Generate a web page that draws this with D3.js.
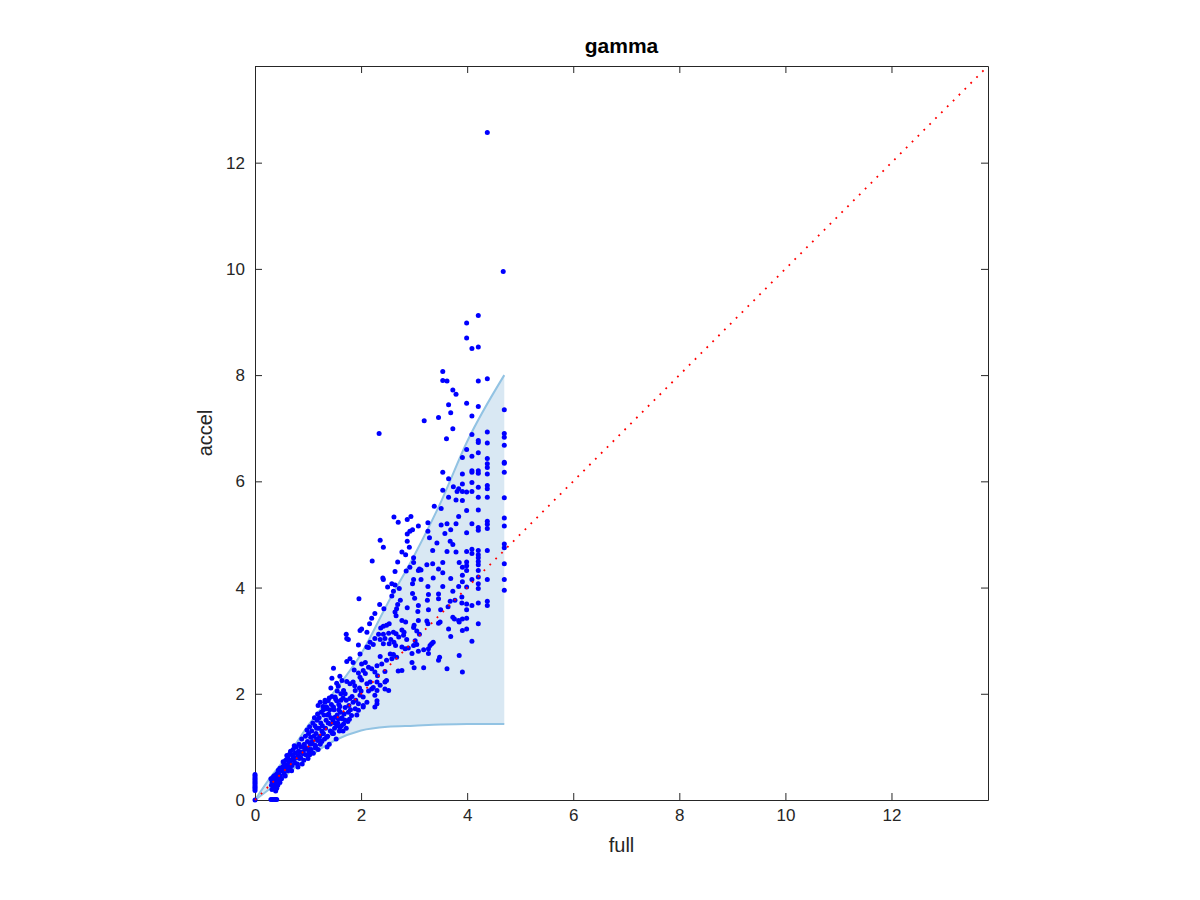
<!DOCTYPE html>
<html>
<head>
<meta charset="utf-8">
<script src="https://cdn.jsdelivr.net/npm/d3@7/dist/d3.min.js"></script>
<style>
body{margin:0;background:#fff;}
text{font-family:"Liberation Sans",Arial,Helvetica,sans-serif;}
</style>
</head>
<body>
<svg id="chart" width="1200" height="900"></svg>
<script>
// ---------------- data ----------------
const chartTitle = "gamma";
const xLabel = "full";
const yLabel = "accel";
const xTicks = [0, 2, 4, 6, 8, 10, 12];
const yTicks = [0, 2, 4, 6, 8, 10, 12];
const axisMax = 13.82;

// envelope (shaded band)
const envFull  = [0, 0.34, 0.5, 0.66, 1.0, 1.5, 2.0, 2.5, 3.0, 3.5, 4.0, 4.7];
const envUpper = [0, 0.49, 0.69, 0.90, 1.40, 2.05, 2.75, 3.70, 4.60, 5.60, 6.75, 8.00];
const envLower = [0, 0.26, 0.39, 0.53, 0.80, 1.12, 1.31, 1.38, 1.40, 1.42, 1.43, 1.43];

// scatter samples [full, accel]
const samples = [
[4.38,12.57],[4.68,9.95],[4.21,9.12],[3.99,8.98],[3.99,8.70],[4.09,8.50],[4.21,8.53],[3.54,8.07],[3.54,7.90],[3.62,7.89],[4.21,7.89],[4.38,7.93],[3.73,7.72],[3.79,7.64],[3.99,7.47],[4.21,7.41],[3.65,7.44],[3.69,7.29],[3.19,7.14],[3.46,7.20],[4.09,7.23],[3.73,6.99],[3.61,6.80],[4.09,6.88],[4.70,7.35],[4.38,6.93],[4.21,6.77],[4.21,6.73],[4.38,6.72],[4.70,6.90],[4.70,6.83],[4.70,6.68],[4.70,6.36],[4.70,6.34],[3.99,6.60],[3.91,6.45],[4.09,6.47],[4.21,6.54],[4.38,6.43],[4.38,6.33],[4.38,6.26],[4.09,6.20],[4.21,6.20],[2.34,6.90],
[3.54,6.17],[3.91,6.14],[4.09,6.17],[4.21,6.15],[4.38,6.14],[3.65,6.05],[3.91,5.95],[4.09,5.98],[4.38,5.92],[4.38,5.86],[4.70,6.17],[3.74,5.90],[3.84,5.86],[3.54,5.83],[3.91,5.81],[3.99,5.80],[4.09,5.81],[3.65,5.70],[3.79,5.65],[3.91,5.64],[4.21,5.70],[4.38,5.70],[4.70,5.69],[3.38,5.53],[3.51,5.49],[3.84,5.34],[3.99,5.45],[4.21,5.46],[2.94,5.34],[2.87,5.28],[3.26,5.22],[3.51,5.18],[3.62,5.20],[3.79,5.20],[4.09,5.20],[4.38,5.25],[4.38,5.19],[4.70,5.31],[4.70,5.16],[3.08,5.16],[2.97,5.09],[2.92,5.06],[2.87,5.01],[3.26,5.06],[3.58,5.02],[3.69,5.09],[3.99,5.03],[4.21,5.13],[4.21,5.08],[4.38,5.11],[3.29,4.94],[2.87,4.87],[3.43,4.84],[3.68,4.87],[3.73,4.81],[2.91,4.76],[2.77,4.67],[2.84,4.62],[3.35,4.70],[3.62,4.68],[3.79,4.67],[3.99,4.68],[4.09,4.72],[4.21,4.70],[4.38,4.70],[4.70,4.82],[4.70,4.75],[4.09,4.64],[2.99,4.56],[4.21,4.62],[4.21,4.56],[4.21,4.49],[4.21,4.43],[2.99,4.47],[3.24,4.43],[3.35,4.45],[3.54,4.47],[3.85,4.47],[3.99,4.48],[3.99,4.41],[3.91,4.38],[4.70,4.45],[3.10,4.35],[3.08,4.32],[3.13,4.33],[2.85,4.31],[2.92,4.38],[3.46,4.35],[3.99,4.32],[4.21,4.32],[2.99,4.15],[3.13,4.15],[3.36,4.18],[3.54,4.28],[3.69,4.17],[3.91,4.23],[3.91,4.11],[4.09,4.15],[4.21,4.20],[4.21,4.07],[4.38,4.15],[4.70,4.15],[3.26,4.02],[3.54,4.02],[3.84,4.02],[3.99,4.01],[4.21,3.98],[4.70,3.95],[2.97,3.89],[3.27,3.87],[3.46,3.88],[3.73,3.93],[3.90,3.82],[3.01,3.80],[3.46,3.79],[3.68,3.74],[3.77,3.76],[3.90,3.71],[3.99,3.69],[4.09,3.66],[4.21,3.71],[4.38,3.74],[4.38,3.66],[2.87,3.62],[3.08,3.66],[3.27,3.58],[3.50,3.58],[3.64,3.64],[3.73,3.44],[3.76,3.41],[3.85,3.35],[3.99,3.58],[3.99,3.42],[3.91,3.41],[2.77,3.38],[2.84,3.35],[3.08,3.38],[3.00,3.29],[2.99,3.25],[3.24,3.37],[3.26,3.32],[3.46,3.33],[3.49,3.35],[3.84,3.38],[3.65,3.22],[3.91,3.19],[3.99,3.22],[4.21,3.32],[2.77,3.20],[2.81,3.16],[2.80,3.10],[3.05,3.18],[3.69,3.08],[2.86,3.02],[3.02,3.00],[3.36,2.97],[4.09,2.99],[3.33,2.94],[3.30,2.91],[2.99,2.91],[3.05,2.93],[2.77,2.88],[2.83,2.85],[2.89,2.86],[3.18,2.83],[3.27,2.85],[2.96,2.76],[3.08,2.80],[3.27,2.76],[3.48,2.69],[3.85,2.72],[3.46,2.63],[2.96,2.59],[2.77,2.44],[3.00,2.49],[3.18,2.49],[3.62,2.47],[3.91,2.41],
[3.81,5.81],[4.21,5.89],[2.62,5.33],[2.70,5.23],[2.36,4.89],[2.42,4.76],[2.21,4.50],[2.69,4.48],[2.64,4.30],[2.41,4.18],[2.42,4.15],[2.97,4.07],[2.58,4.07],[2.64,4.05],[2.50,4.01],[2.61,3.93],[2.72,3.98],[1.96,3.79],[2.58,3.84],[2.74,3.76],[3.25,3.76],[2.35,3.68],[2.43,3.60],[2.67,3.60],[2.64,3.54],[3.07,3.55],[2.26,3.51],[2.20,3.42],[2.69,3.68],[2.53,3.32],[2.48,3.29],[2.42,3.27],[2.37,3.24],[2.16,3.32],[2.01,3.22],[1.98,3.19],[2.11,3.16],[1.72,3.12],[1.73,3.04],[1.76,3.02],[2.33,3.12],[2.42,3.12],[2.52,3.14],[2.61,3.16],[2.66,3.13],[2.71,3.07],[2.26,3.04],[2.36,3.02],[2.45,3.04],[2.56,3.02],[2.62,2.97],[2.65,2.91],[2.17,2.97],[2.23,2.93],[2.42,2.94],[2.53,2.94],[2.11,2.88],[1.95,2.92],[3.10,3.12],[2.66,3.47],
[2.14,2.87],[1.48,2.48],[1.98,2.75],[1.85,2.59],[1.73,2.61],[1.79,2.66],[1.87,2.45],[2.01,2.56],[2.08,2.59],[2.14,2.50],[2.20,2.47],[2.30,2.53],[2.39,2.56],[2.48,2.63],[2.58,2.66],[2.67,2.69],[2.36,2.70],[2.55,2.75],[2.61,2.74],[2.45,2.42],[2.26,2.41],[2.31,2.34],[2.04,2.44],[2.08,2.38],[1.95,2.39],[1.98,2.31],[2.01,2.26],[1.60,2.33],[1.64,2.25],[1.45,2.29],[1.43,2.11],[1.54,2.20],[1.57,2.14],[1.73,2.23],[1.79,2.19],[1.85,2.22],[2.11,2.19],[2.17,2.22],[2.30,2.22],[2.36,2.16],[2.45,2.09],[2.52,2.06],[2.14,2.05],[2.20,2.09],[1.89,2.06],[1.97,2.11],[1.67,2.06],[1.70,2.00],[1.98,1.97],[2.04,1.94],[2.26,1.97],[1.79,1.91],[1.85,1.84],[1.51,1.94],[1.54,1.87],[1.38,1.87],[1.32,1.84],[1.23,1.84],[1.19,1.78],[1.48,1.75],[1.60,1.76],[1.70,1.74],[1.95,1.81],[2.04,1.78],[2.11,1.84],[2.26,1.75],[1.77,1.78],[1.28,1.76],[1.35,1.72],
[2.70,2.43],[2.45,2.22],[2.48,2.25],[2.23,2.12],[2.30,2.06],[2.04,1.75],[1.95,1.69],[1.89,1.72],[1.82,1.59],[1.76,1.65],[1.70,1.50],[1.64,1.53],[1.54,1.40],[1.60,1.37],[1.67,1.43],[1.57,1.53],[1.51,1.56],[1.42,1.43],[1.48,1.25],[1.45,1.28],[1.35,1.18],[1.29,1.25],[1.23,1.12],[1.16,1.15],[1.13,1.03],[1.07,1.06],[1.01,0.96],[0.94,0.99],[0.91,0.87],[0.85,0.90],[0.82,0.84],[0.75,0.78],[0.72,0.81],[0.66,0.71],[0.63,0.74],[0.60,0.65],[0.53,0.62],[0.50,0.59],[0.44,0.56],[0.41,0.49],[0.38,0.46],[0.35,0.40],[0.32,0.34],[0.38,0.34],[2.30,1.87],[2.30,1.81],
[0,0.00],[0,0.18],[0,0.21],[0,0.24],[0,0.27],[0,0.30],[0,0.33],[0,0.36],[0,0.39],[0,0.42],[0,0.45],[0,0.48],
[0.30,0.01],[0.33,0.01],[0.36,0.01],[0.39,0.01],[0.41,0.01],
[0.32,0.20],[0.35,0.25],[0.38,0.30],[0.33,0.35],[0.40,0.40],[0.36,0.45],[0.42,0.50],[0.44,0.35],[0.46,0.42],[0.31,0.28],[0.41,0.22],[0.37,0.38],[0.45,0.48],[0.34,0.43],[0.39,0.17],[0.43,0.28],[0.30,0.40],[0.47,0.33],
[0.48,0.45],[0.50,0.55],[0.52,0.62],[0.55,0.50],[0.55,0.68],[0.58,0.58],[0.58,0.75],[0.60,0.65],[0.62,0.55],[0.62,0.80],[0.64,0.70],[0.65,0.86],[0.50,0.40],[0.53,0.72],[0.57,0.45],[0.60,0.84],[0.63,0.62],[0.47,0.60],
[0.66,0.60],[0.68,0.75],[0.70,0.85],[0.70,0.65],[0.72,0.95],[0.73,0.78],[0.75,0.70],[0.76,0.88],[0.78,1.00],[0.79,0.80],[0.80,0.68],[0.82,0.92],[0.83,1.05],[0.84,0.78],[0.67,0.92],[0.74,1.02],[0.81,0.62],[0.69,0.55],
[0.86,0.80],[0.87,1.00],[0.88,1.15],[0.90,0.90],[0.92,0.75],[0.93,1.05],[0.95,1.20],[0.96,0.85],[0.97,0.98],[0.99,1.10],[1.00,0.78],[1.01,1.25],[1.02,0.92],[1.04,1.05],[1.05,1.18],[0.89,0.68],[0.94,0.95],[1.03,0.85],
[1.06,0.95],[1.07,1.30],[1.08,1.10],[1.10,0.88],[1.11,1.20],[1.13,1.40],[1.14,1.02],[1.15,1.25],[1.17,1.50],[1.18,1.12],[1.19,0.95],[1.20,1.35],[1.22,1.20],[1.23,1.05],[1.24,1.45],[1.09,1.45],[1.16,1.35],[1.21,1.55],
[1.26,1.10],[1.27,1.40],[1.28,1.25],[1.30,1.60],[1.31,1.15],[1.33,1.35],[1.34,1.50],[1.35,1.75],[1.37,1.20],[1.38,1.45],[1.39,1.62],[1.40,1.05],[1.42,1.30],[1.43,1.55],[1.44,1.80],[1.29,1.70],[1.36,1.00],[1.41,1.70],
[1.46,1.25],[1.47,1.50],[1.49,1.70],[1.50,1.35],[1.52,1.90],[1.53,1.15],[1.55,1.60],[1.56,1.45],[1.58,1.80],[1.59,1.30],[1.61,1.65],[1.62,2.00],[1.63,1.40],[1.64,1.55],
[0.98,1.32],[1.03,1.38],[1.12,1.55],[1.18,1.62],[1.25,1.65],[1.32,1.88],[1.45,1.95],[1.40,1.92],[1.55,2.05],[1.66,1.92],[1.72,1.88],[1.68,1.62],[1.75,1.48],[1.80,1.70],[1.83,1.95],[1.90,1.88],[1.92,1.60],[1.88,2.15],[2.00,2.05],[1.66,1.30],[1.72,1.35],[1.78,1.52],[1.50,1.45],[1.58,1.70],[1.62,1.88],[1.14,0.98],[1.26,1.30],[1.37,1.60]
];

// ---------------- drawing ----------------
const svg = d3.select("#chart");
const plot = {left: 255, right: 988, top: 66, bottom: 800};
const x = d3.scaleLinear().domain([0, axisMax]).range([plot.left, plot.right]);
const y = d3.scaleLinear().domain([0, axisMax]).range([plot.bottom, plot.top]);
const ink = "#262626";
const fontFam = "'Liberation Sans', Arial, sans-serif";

svg.append("rect").attr("width", 1200).attr("height", 900).attr("fill", "#fff");

const env = envFull.map((f, i) => ({f: f, lo: envLower[i], hi: envUpper[i]}));

svg.append("path")
  .datum(env)
  .attr("fill", "#d9e8f3")
  .attr("d", d3.area().x(d => x(d.f)).y0(d => y(d.lo)).y1(d => y(d.hi)).curve(d3.curveMonotoneX));

const lineColor = "#92c3e3";
svg.append("path").datum(env).attr("fill", "none").attr("stroke", lineColor).attr("stroke-width", 2)
  .attr("d", d3.line().x(d => x(d.f)).y(d => y(d.hi)).curve(d3.curveMonotoneX));
svg.append("path").datum(env).attr("fill", "none").attr("stroke", lineColor).attr("stroke-width", 2)
  .attr("d", d3.line().x(d => x(d.f)).y(d => y(d.lo)).curve(d3.curveMonotoneX));

// axes
function style(g) {
  g.selectAll("path.domain").attr("stroke", ink);
  g.selectAll(".tick line").attr("stroke", ink);
  g.selectAll("text").attr("fill", ink).style("font-size", "17px").style("font-family", fontFam);
}
svg.append("g").attr("transform", `translate(0,${plot.bottom})`)
  .call(d3.axisBottom(x).tickValues(xTicks).tickSize(-7).tickSizeOuter(0).tickPadding(9).tickFormat(d3.format("d")))
  .call(style);
svg.append("g").attr("transform", `translate(0,${plot.top})`)
  .call(d3.axisTop(x).tickValues(xTicks).tickSize(-7).tickSizeOuter(0).tickFormat(""))
  .call(style);
svg.append("g").attr("transform", `translate(${plot.left},0)`)
  .call(d3.axisLeft(y).tickValues(yTicks).tickSize(-7).tickSizeOuter(0).tickPadding(10).tickFormat(d3.format("d")))
  .call(style);
svg.append("g").attr("transform", `translate(${plot.right},0)`)
  .call(d3.axisRight(y).tickValues(yTicks).tickSize(-7).tickSizeOuter(0).tickFormat(""))
  .call(style);

// scatter on top of axes
svg.append("g").selectAll("circle").data(samples).join("circle")
  .attr("cx", d => x(d[0])).attr("cy", d => y(d[1])).attr("r", 2.5).attr("fill", "#0000ff");

// identity reference line
svg.append("line")
  .attr("x1", x(0)).attr("y1", y(0)).attr("x2", x(axisMax)).attr("y2", y(axisMax))
  .attr("stroke", "#ff0000").attr("stroke-width", 1.8).attr("stroke-dasharray", "1.8,6.5");

svg.append("text").attr("x", (plot.left + plot.right) / 2).attr("y", 53)
  .attr("text-anchor", "middle").attr("font-weight", "bold").attr("font-size", 21)
  .attr("font-family", fontFam).attr("fill", "#000").text(chartTitle);
svg.append("text").attr("x", (plot.left + plot.right) / 2).attr("y", 852)
  .attr("text-anchor", "middle").attr("font-size", 20)
  .attr("font-family", fontFam).attr("fill", ink).text(xLabel);
svg.append("text").attr("transform", `translate(212,${(plot.top + plot.bottom) / 2}) rotate(-90)`)
  .attr("text-anchor", "middle").attr("font-size", 20)
  .attr("font-family", fontFam).attr("fill", ink).text(yLabel);
</script>
</body>
</html>
